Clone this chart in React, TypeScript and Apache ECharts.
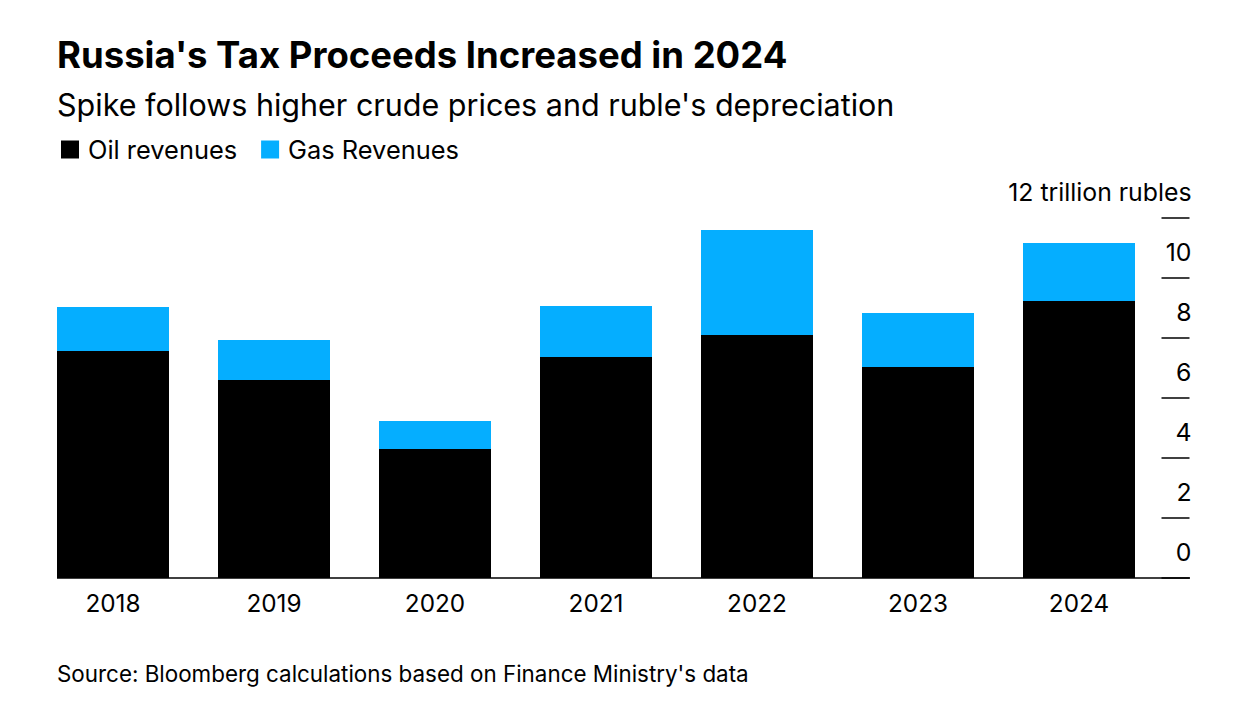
import React, { useEffect, useRef } from "react";
import * as echarts from "echarts";

const years = ["2018", "2019", "2020", "2021", "2022", "2023", "2024"];
const oilRevenues = [7.57, 6.6, 4.3, 7.37, 8.1, 7.03, 9.23];
const gasRevenues = [1.46, 1.33, 0.93, 1.7, 3.5, 1.8, 1.94];
const yTicks = [0, 2, 4, 6, 8, 10, 12];

const FONT = "Inter, 'Liberation Sans', Arial, sans-serif";

export default function App() {
  const ref = useRef<HTMLDivElement>(null);
  useEffect(() => {
    document.body.style.margin = "0";
    const chart = echarts.init(ref.current!, null, { renderer: "svg" });
    chart.setOption({
      animation: false,
      backgroundColor: "#ffffff",
      textStyle: { fontFamily: FONT },
      title: [
        {
          text: "Russia's Tax Proceeds Increased in 2024",
          left: 52,
          top: 31,
          textStyle: { fontSize: 36.5, fontWeight: "bold", color: "#000", fontFamily: FONT },
        },
        {
          text: "Spike follows higher crude prices and ruble's depreciation",
          left: 52,
          top: 84,
          textStyle: { fontSize: 30.5, fontWeight: "normal", color: "#000", fontFamily: FONT },
        },
        {
          text: "Source: Bloomberg calculations based on Finance Ministry's data",
          left: 52,
          top: 657,
          textStyle: { fontSize: 22.4, fontWeight: "normal", color: "#000", fontFamily: FONT },
        },
      ],
      legend: {
        left: 56,
        top: 132,
        icon: "rect",
        itemWidth: 18,
        itemHeight: 18,
        itemGap: 24,
        textStyle: { fontSize: 25.4, color: "#000", fontFamily: FONT, padding: [0, 0, 0, 4] },
        data: ["Oil revenues", "Gas Revenues"],
      },
      grid: { left: 32.5, right: 84.5, top: 218, bottom: 130 },
      xAxis: {
        type: "category",
        data: years,
        axisLine: { show: false },
        axisTick: { show: false },
        axisLabel: { fontSize: 24.3, color: "#000", margin: 13, fontFamily: FONT },
      },
      yAxis: {
        type: "value",
        position: "right",
        min: 0,
        max: 12,
        interval: 2,
        offset: 2,
        splitLine: { show: false },
        axisLine: { show: false },
        axisTick: { show: true, length: 28, lineStyle: { color: "#000", width: 1.5 } },
        axisLabel: {
          fontSize: 24.8,
          color: "#000",
          fontFamily: FONT,
          margin: 30,
          align: "right",
          verticalAlign: "bottom",
          padding: [0, 0, 14, 0],
          formatter: (v: number) => (v === yTicks[yTicks.length - 1] ? `${v} trillion rubles` : `${v}`),
        },
      },
      series: [
        {
          name: "Oil revenues",
          type: "bar",
          stack: "total",
          barWidth: 112,
          data: oilRevenues,
          itemStyle: { color: "#000000" },
        },
        {
          name: "Gas Revenues",
          type: "bar",
          stack: "total",
          barWidth: 112,
          data: gasRevenues,
          itemStyle: { color: "#05AEFF" },
        },
      ],
      graphic: [
        {
          type: "line",
          shape: { x1: 57, y1: 578, x2: 1190, y2: 578 },
          style: { stroke: "#000", lineWidth: 1.5 },
          z: 100,
        },
      ],
    });
    return () => chart.dispose();
  }, []);
  return <div ref={ref} style={{ position: "absolute", left: 0, top: 0, width: 1244, height: 708 }} />;
}
